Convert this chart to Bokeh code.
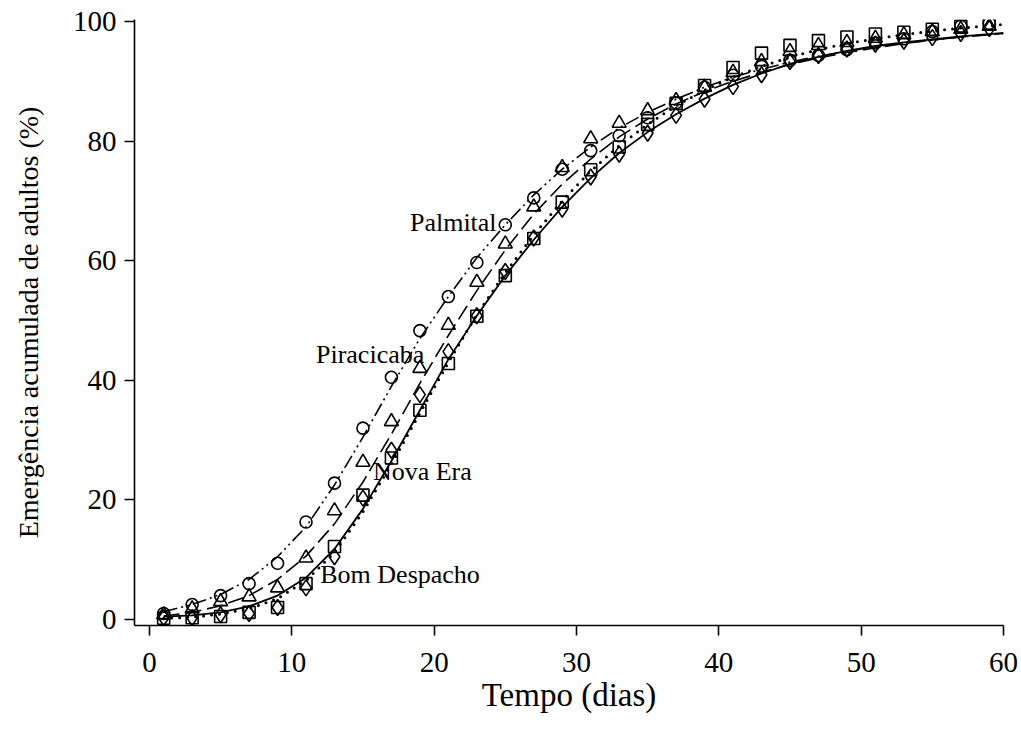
from bokeh.plotting import figure
from bokeh.models import Range1d, FixedTicker, Label
from bokeh.embed import file_html
from bokeh.resources import INLINE

# ---- data ----
days = [1, 3, 5, 7, 9, 11, 13, 15, 17, 19, 21, 23, 25, 27, 29,
        31, 33, 35, 37, 39, 41, 43, 45, 47, 49, 51, 53, 55, 57, 59]

palmital_obs = [1.0, 2.5, 4.0, 6.0, 9.4, 16.3, 22.8, 32.0, 40.5, 48.3, 54.0, 59.7, 66.0, 70.5, 75.3,
                78.4, 80.9, 83.9, 86.4, 89.0, 91.0, 92.5, 93.5, 94.3, 95.3, 96.4, 97.1, 98.3, 99.2, 99.7]
piracicaba_obs = [0.8, 1.8, 3.0, 3.8, 5.3, 10.3, 18.2, 26.3, 33.1, 42.0, 49.2, 56.4, 62.8, 69.0, 75.6,
                  80.4, 83.0, 85.1, 86.8, 89.0, 91.5, 93.3, 95.0, 96.0, 96.5, 97.2, 97.8, 98.3, 98.7, 99.2]
novaera_obs = [0.3, 0.3, 0.8, 1.0, 2.0, 5.3, 10.5, 20.3, 28.3, 37.6, 44.8, 50.8, 58.2, 63.8, 68.6,
               74.0, 77.8, 81.3, 84.3, 87.0, 89.1, 91.1, 93.3, 94.3, 95.4, 96.2, 96.7, 97.3, 98.0, 98.8]
bomdespacho_obs = [0.2, 0.3, 0.5, 1.2, 2.0, 6.0, 12.2, 20.8, 27.0, 35.0, 42.8, 50.7, 57.5, 63.7, 69.8,
                   75.2, 79.0, 82.8, 86.3, 89.3, 92.3, 94.7, 96.0, 96.8, 97.4, 97.9, 98.2, 98.7, 99.2, 99.6]

fit_days = [1, 3, 5, 7, 9, 11, 13, 15, 17, 19, 21, 23, 25, 27, 29,
            31, 33, 35, 37, 39, 41, 43, 45, 47, 49, 51, 53, 55, 57, 59, 60]
palmital_fit = [1.3, 2.5, 4.2, 6.7, 10.5, 15.5, 22.5, 30.5, 39.0, 47.0, 54.0, 60.5, 66.0, 71.0, 75.3,
                79.0, 82.2, 84.8, 87.0, 89.0, 90.7, 92.0, 93.2, 94.2, 95.0, 95.8, 96.4, 96.9, 97.4, 97.8, 98.0]
piracicaba_fit = [0.6, 1.2, 2.3, 4.0, 6.7, 10.6, 16.0, 23.0, 31.0, 39.5, 47.5, 55.0, 61.8, 67.8, 72.8,
                  77.0, 80.7, 83.7, 86.2, 88.3, 90.0, 91.5, 92.8, 93.9, 94.8, 95.6, 96.3, 96.9, 97.4, 97.8, 98.0]
novaera_fit = [0.5, 0.7, 1.2, 2.2, 4.0, 7.0, 11.8, 18.5, 26.5, 35.0, 43.5, 50.8, 57.5, 63.5, 69.0,
               73.8, 78.0, 81.5, 84.5, 87.1, 89.4, 91.3, 92.9, 94.1, 95.1, 95.9, 96.5, 97.0, 97.5, 97.9, 98.1]
bomdespacho_fit = [0.2, 0.4, 0.9, 1.8, 3.5, 6.5, 11.2, 18.0, 26.0, 34.5, 43.0, 51.0, 58.0, 64.3, 70.0,
                   75.0, 79.2, 82.8, 85.9, 88.5, 90.7, 92.5, 94.0, 95.3, 96.3, 97.1, 97.8, 98.4, 98.9, 99.3, 99.5]

site_names = ["Palmital", "Piracicaba", "Nova Era", "Bom Despacho"]
label_x = [18.3, 11.7, 15.7, 12.0]
label_y = [66.4, 44.3, 24.7, 7.5]

x_ticks = [0, 10, 20, 30, 40, 50, 60]
y_ticks = [0, 20, 40, 60, 80, 100]

FONT = "Liberation Serif"

p = figure(width=1021, height=743, output_backend="svg", toolbar_location=None,
           x_range=Range1d(-1.05, 60), y_range=Range1d(-1.0, 100.33),
           min_border_left=134, min_border_right=18, min_border_top=19, min_border_bottom=118)
p.outline_line_color = None
p.xgrid.visible = False
p.ygrid.visible = False
p.background_fill_color = "white"
p.border_fill_color = "white"

series = [
    (palmital_obs, palmital_fit, "circle", 12, "14 4 2 4 2 4", 1.6, "butt"),
    (piracicaba_obs, piracicaba_fit, "triangle", 14, "16 6", 1.6, "butt"),
    (novaera_obs, novaera_fit, "diamond", 16, "solid", 1.8, "butt"),
    (bomdespacho_obs, bomdespacho_fit, "square", 12, "0 8", 3.0, "round"),
]

for obs, fit, mk, sz, dash, lw, cap in series:
    p.line(fit_days, fit, line_color="black", line_width=lw, line_dash=dash, line_cap=cap)

for obs, fit, mk, sz, dash, lw, cap in series:
    p.scatter(days, obs, marker=mk, size=sz, fill_color=None, line_color="black", line_width=1.6)

for name, lx, ly in zip(site_names, label_x, label_y):
    p.add_layout(Label(x=lx, y=ly, text=name, text_font=FONT, text_font_size="26px",
                       text_baseline="middle", text_align="left", text_color="black"))

for ax in (p.xaxis[0], p.yaxis[0]):
    ax.axis_line_width = 1.6
    ax.axis_line_color = "black"
    ax.major_tick_line_width = 1.6
    ax.major_tick_line_color = "black"
    ax.major_tick_in = 0
    ax.major_tick_out = 10
    ax.minor_tick_line_color = None
    ax.major_label_text_font = FONT
    ax.major_label_text_font_size = "29px"
    ax.major_label_text_color = "black"
    ax.axis_label_text_font = FONT
    ax.axis_label_text_font_style = "normal"
    ax.axis_label_text_color = "black"

p.xaxis.axis_label_text_font_size = "33px"
p.yaxis.axis_label_text_font_size = "28px"
p.xaxis.ticker = FixedTicker(ticks=x_ticks)
p.yaxis.ticker = FixedTicker(ticks=y_ticks)
p.xaxis.axis_label = "Tempo (dias)"
p.yaxis.axis_label = "Emergência acumulada de adultos (%)"
p.xaxis.major_label_standoff = 17
p.xaxis.axis_label_standoff = 2
p.yaxis.major_label_standoff = 8
p.yaxis.axis_label_standoff = 26

open("out.html", "w").write(file_html(p, INLINE))
